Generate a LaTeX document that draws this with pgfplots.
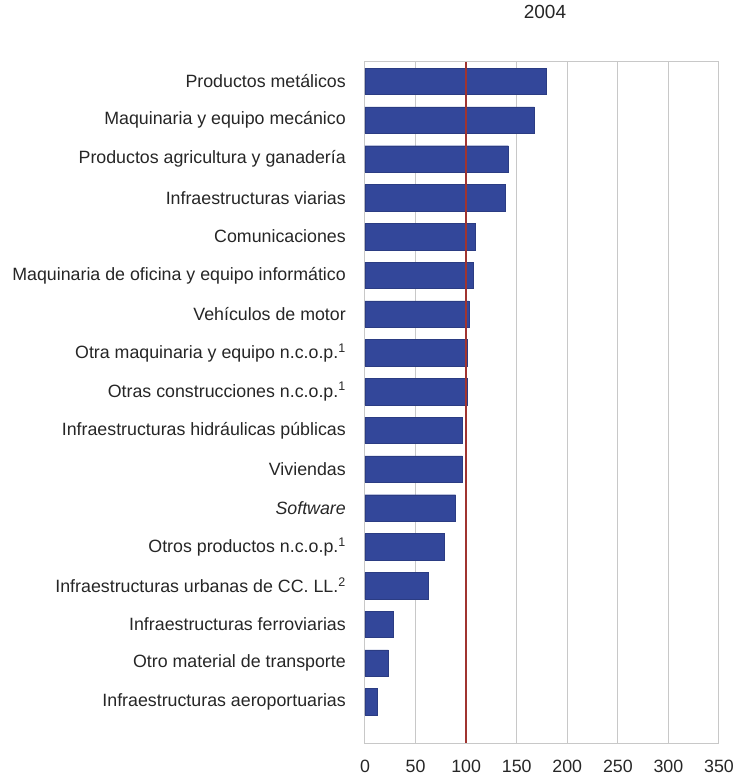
\documentclass[border=0pt]{standalone}
\usepackage{fontspec}
\setmainfont{Liberation Sans}
\usepackage{pgfplots}
\pgfplotsset{compat=1.18}

\definecolor{barblue}{RGB}{51,71,154}
\definecolor{refred}{RGB}{160,52,48}
\definecolor{gridgray}{RGB}{200,200,200}

\begin{document}
\begin{tikzpicture}
\begin{axis}[
    scale only axis,
    width=354bp, height=681bp,
    xbar, bar width=26.5bp,
    xmin=0, xmax=350,
    ymin=-0.5, ymax=17.06,
    y dir=reverse,
    xtick={0,50,...,350},
    ytick={0,...,16},
    yticklabels={
        Productos metálicos,
        Maquinaria y equipo mecánico,
        Productos agricultura y ganadería,
        Infraestructuras viarias,
        Comunicaciones,
        Maquinaria de oficina y equipo informático,
        Vehículos de motor,
        Otra maquinaria y equipo n.c.o.p.\textsuperscript{1},
        Otras construcciones n.c.o.p.\textsuperscript{1},
        Infraestructuras hidráulicas públicas,
        Viviendas,
        \textit{Software},
        Otros productos n.c.o.p.\textsuperscript{1},
        Infraestructuras urbanas de CC. LL.\textsuperscript{2},
        Infraestructuras ferroviarias,
        Otro material de transporte,
        Infraestructuras aeroportuarias},
    major tick length=0pt,
    xmajorgrids, grid style={gridgray, line width=1pt},
    axis line style={gridgray, line width=1pt},
    font=\fontsize{17.8bp}{21bp}\selectfont,
    /pgf/number format/assume math mode=true,
    yticklabel style={anchor=east, inner sep=0pt, xshift=-19bp, text=black!85},
    xticklabel style={anchor=north, inner sep=0pt, yshift=-16.5bp, text=black!85},
    title={2004},
    title style={at={(0.5,1)}, anchor=center, xshift=3bp, yshift=44bp, inner sep=0pt,
        text=black!85, font=\fontsize{19bp}{22bp}\selectfont},
]
\addplot[fill=barblue, draw=barblue!85!black] coordinates {
    (179,0) (167.4,1) (141.7,2) (139,3) (108.8,4) (107,5) (102.8,6)
    (101.2,7) (101.5,8) (96.2,9) (96.2,10) (89.6,11) (78.8,12)
    (62.4,13) (28,14) (23,15) (11.9,16)
};
\addplot[refred, line width=1.4pt, xbar=0pt, draw, mark=none, sharp plot] coordinates {(100,-0.5) (100,17.06)};
\end{axis}
\pgfresetboundingbox
\path[use as bounding box] (-365bp,-33bp) rectangle (370bp,743bp);
\end{tikzpicture}
\end{document}
